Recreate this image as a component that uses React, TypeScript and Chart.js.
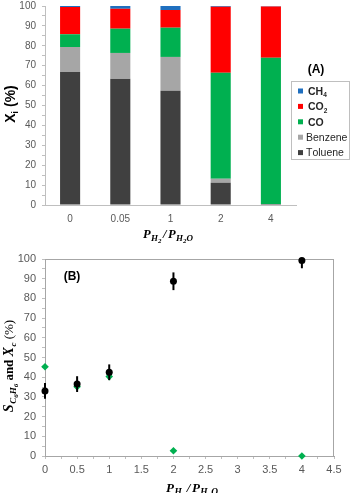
import React, { useEffect, useRef } from "react";
import { Chart, registerables } from "chart.js";

Chart.register(...registerables);

// Panel A: product distribution (stacked, %)
const ratioLabels = ["0", "0.05", "1", "2", "4"];
const toluene = [66.8, 63.5, 57.4, 11.2, 0.5];
const benzene = [12.6, 12.9, 17.0, 2.0, 0];
const co = [6.4, 12.2, 14.7, 53.3, 73.5];
const co2 = [13.7, 10.0, 8.9, 33.1, 25.8];
const ch4 = [0.5, 1.4, 2.0, 0.4, 0.2];

// Panel B: conversion with error bars and benzene selectivity
const ratioX = [0, 0.5, 1, 2, 4];
const conversion = [33, 36.5, 42.5, 88.7, 99.3];
const conversionErr = [4, 4, 4, 4.5, 4];
const selectivity = [45.3, 35.2, 40.3, 2.7, 0];

const SANS = "'Liberation Sans', Arial, sans-serif";
const SERIF = "'Liberation Serif', 'Times New Roman', serif";
const TICK_COLOR = "#595959";
const AXIS_COLOR = "#bfbfbf";

type Seg = { text: string; font: string; dy?: number; gap?: number };

function drawRich(
  ctx: CanvasRenderingContext2D,
  segs: Seg[],
  cx: number,
  cy: number,
  angle: number,
  color: string,
  align: "center" | "left" = "center"
) {
  ctx.save();
  ctx.translate(cx, cy);
  ctx.rotate(angle);
  ctx.fillStyle = color;
  ctx.textAlign = "left";
  ctx.textBaseline = "alphabetic";
  let total = 0;
  const widths = segs.map((s) => {
    ctx.font = s.font;
    const w = ctx.measureText(s.text).width + (s.gap ?? 0);
    total += w;
    return w;
  });
  let x = align === "center" ? -total / 2 : 0;
  segs.forEach((s, i) => {
    ctx.font = s.font;
    ctx.fillText(s.text, x, s.dy ?? 0);
    x += widths[i];
  });
  ctx.restore();
}

// split a label like "CO₂" into normal + subscript runs
function labelSegs(label: string, weight: string, size: number): Seg[] {
  const segs: Seg[] = [];
  for (const ch of label) {
    const code = ch.charCodeAt(0);
    if (code >= 0x2080 && code <= 0x2089) {
      segs.push({
        text: String(code - 0x2080),
        font: `${weight} ${size * 0.62}px ${SANS}`,
        dy: 2.5,
      });
    } else {
      segs.push({ text: ch, font: `${weight} ${size}px ${SANS}` });
    }
  }
  return segs;
}

function ratioTitle(size: number): Seg[] {
  const main = `italic bold ${size}px ${SERIF}`;
  const sub = `italic bold ${size * 0.72}px ${SERIF}`;
  const sub2 = `italic bold ${size * 0.55}px ${SERIF}`;
  return [
    { text: "P", font: main, gap: 0.5 },
    { text: "H", font: sub, dy: 3 },
    { text: "2", font: sub2, dy: 5, gap: 1.5 },
    { text: "/", font: main, gap: 1.5 },
    { text: "P", font: main, gap: 0.5 },
    { text: "H", font: sub, dy: 3 },
    { text: "2", font: sub2, dy: 5 },
    { text: "O", font: sub, dy: 3 },
  ];
}

const panelAPlugin = {
  id: "panelA",
  afterDraw(chart: any) {
    const ctx: CanvasRenderingContext2D = chart.ctx;
    // axis titles
    drawRich(
      ctx,
      [
        { text: "X", font: `bold 14px ${SANS}` },
        { text: "i", font: `bold 9px ${SANS}`, dy: 3 },
        { text: " (%)", font: `bold 14px ${SANS}` },
      ],
      15,
      104,
      -Math.PI / 2,
      "#000"
    );
    drawRich(ctx, ratioTitle(12.5), 168, 238, 0, "#000");

    // panel tag
    ctx.save();
    ctx.font = `bold 12px ${SANS}`;
    ctx.fillStyle = "#000";
    ctx.textAlign = "center";
    ctx.textBaseline = "middle";
    ctx.fillText("(A)", 316, 70);
    ctx.restore();

    // legend box
    ctx.save();
    ctx.fillStyle = "#fff";
    ctx.strokeStyle = AXIS_COLOR;
    ctx.lineWidth = 1;
    ctx.fillRect(291.5, 81.5, 58, 78);
    ctx.strokeRect(291.5, 81.5, 58, 78);
    ctx.restore();

    const ds = chart.data.datasets.slice().reverse();
    ds.forEach((d: any, i: number) => {
      const cy = 91 + i * 15.4;
      const bold = i < 3;
      ctx.save();
      ctx.fillStyle = d.backgroundColor;
      ctx.fillRect(298, cy - 2.5, 5, 5);
      ctx.restore();
      drawRich(
        ctx,
        labelSegs(d.label, bold ? "bold" : "normal", 10.5),
        bold ? 308 : 306,
        cy + 3.8,
        0,
        "#262626",
        "left"
      );
    });
  },
};

const panelBPlugin = {
  id: "panelB",
  beforeDatasetsDraw(chart: any) {
    const ctx: CanvasRenderingContext2D = chart.ctx;
    const a = chart.chartArea;
    ctx.save();
    ctx.strokeStyle = "#a6a6a6";
    ctx.lineWidth = 1;
    ctx.strokeRect(a.left + 0.5, a.top + 0.5, a.right - a.left - 1, a.bottom - a.top);
    ctx.restore();
  },
  afterDatasetsDraw(chart: any) {
    const ctx: CanvasRenderingContext2D = chart.ctx;
    const a = chart.chartArea;
    const xs = chart.scales.x;
    const ys = chart.scales.y;
    ctx.save();
    ctx.beginPath();
    ctx.rect(a.left - 5, a.top, a.right - a.left + 10, a.bottom - a.top);
    ctx.clip();
    ctx.strokeStyle = "#000";
    ctx.lineWidth = 2;
    ratioX.forEach((xv, i) => {
      const px = xs.getPixelForValue(xv);
      const y1 = ys.getPixelForValue(conversion[i] + conversionErr[i]);
      const y2 = ys.getPixelForValue(conversion[i] - conversionErr[i]);
      ctx.beginPath();
      ctx.moveTo(px, y1);
      ctx.lineTo(px, y2);
      ctx.stroke();
    });
    ctx.restore();
  },
  afterDraw(chart: any) {
    const ctx: CanvasRenderingContext2D = chart.ctx;
    drawRich(
      ctx,
      [
        { text: "S", font: `italic bold 14px ${SERIF}`, gap: 0.5 },
        { text: "C", font: `italic bold 9px ${SERIF}`, dy: 3 },
        { text: "6", font: `italic bold 7px ${SERIF}`, dy: 5 },
        { text: "H", font: `italic bold 9px ${SERIF}`, dy: 3 },
        { text: "6", font: `italic bold 7px ${SERIF}`, dy: 5 },
        { text: " and ", font: `bold 13px ${SERIF}` },
        { text: "X", font: `italic bold 14px ${SERIF}`, gap: 0.5 },
        { text: "c", font: `italic bold 9px ${SERIF}`, dy: 3 },
        { text: " (%)", font: `13px ${SERIF}` },
      ],
      13,
      121,
      -Math.PI / 2,
      "#000"
    );
    drawRich(ctx, ratioTitle(13), 192, 247, 0, "#000");

    ctx.save();
    ctx.font = `bold 12px ${SANS}`;
    ctx.fillStyle = "#000";
    ctx.textAlign = "center";
    ctx.textBaseline = "middle";
    ctx.fillText("(B)", 72, 32);
    ctx.restore();
  },
};

function minorTick(v: number, major: number) {
  return Math.abs(v / major - Math.round(v / major)) < 1e-6 ? String(v) : "";
}

export default function App() {
  const topRef = useRef<HTMLCanvasElement>(null);
  const botRef = useRef<HTMLCanvasElement>(null);

  useEffect(() => {
    const top = new Chart(topRef.current!, {
      type: "bar",
      data: {
        labels: ratioLabels,
        datasets: [
          { label: "Toluene", data: toluene, backgroundColor: "#404040" },
          { label: "Benzene", data: benzene, backgroundColor: "#a6a6a6" },
          { label: "CO", data: co, backgroundColor: "#00b050" },
          { label: "CO₂", data: co2, backgroundColor: "#ff0000" },
          { label: "CH₄", data: ch4, backgroundColor: "#1f6fbf" },
        ],
      },
      options: {
        responsive: false,
        animation: false,
        layout: { padding: { top: 6, right: 60, left: 0, bottom: 0 } },
        datasets: { bar: { barPercentage: 0.4, categoryPercentage: 1, borderWidth: 0 } },
        plugins: { legend: { display: false }, tooltip: { enabled: false } },
        scales: {
          x: {
            stacked: true,
            grid: { display: true, drawOnChartArea: false, drawTicks: false },
            border: { color: AXIS_COLOR },
            ticks: { font: { family: SANS, size: 10 }, color: TICK_COLOR, padding: 8 },
            afterFit: (s: any) => {
              s.height = 40;
            },
          },
          y: {
            stacked: true,
            min: 0,
            max: 100,
            grid: { drawOnChartArea: false, tickLength: 3, color: AXIS_COLOR },
            border: { color: AXIS_COLOR },
            ticks: {
              stepSize: 5,
              autoSkip: false,
              font: { family: SANS, size: 10 },
              color: TICK_COLOR,
              padding: 6,
              callback: (v: any) => minorTick(Number(v), 10),
            },
            afterFit: (s: any) => {
              s.width = 45;
              s.paddingTop = 0;
              s.paddingBottom = 0;
            },
          },
        },
      },
      plugins: [panelAPlugin],
    });

    const bottom = new Chart(botRef.current!, {
      type: "scatter",
      data: {
        datasets: [
          {
            label: "Xc",
            data: ratioX.map((x, i) => ({ x, y: conversion[i] })),
            pointStyle: "circle",
            pointRadius: 3.5,
            backgroundColor: "#000",
            borderColor: "#000",
            borderWidth: 0,
            clip: false,
          },
          {
            label: "S",
            data: ratioX.map((x, i) => ({ x, y: selectivity[i] })),
            pointStyle: "rectRot",
            pointRadius: 3.8,
            backgroundColor: "#00b050",
            borderColor: "#00b050",
            borderWidth: 0,
            clip: false,
          },
        ],
      },
      options: {
        responsive: false,
        animation: false,
        layout: { padding: { top: 14, right: 22, left: 0, bottom: 0 } },
        plugins: { legend: { display: false }, tooltip: { enabled: false } },
        scales: {
          x: {
            type: "linear",
            min: 0,
            max: 4.5,
            grid: { drawOnChartArea: false, tickLength: 3, color: AXIS_COLOR },
            border: { color: "#a6a6a6" },
            ticks: {
              stepSize: 0.25,
              autoSkip: false,
              maxRotation: 0,
              font: { family: SANS, size: 11 },
              color: TICK_COLOR,
              padding: 4,
              callback: (v: any) => minorTick(Number(v), 0.5),
            },
            afterFit: (s: any) => {
              s.height = 37;
            },
          },
          y: {
            min: 0,
            max: 100,
            grid: { drawOnChartArea: false, tickLength: 3, color: AXIS_COLOR },
            border: { color: "#a6a6a6" },
            ticks: {
              stepSize: 5,
              autoSkip: false,
              font: { family: SANS, size: 11 },
              color: TICK_COLOR,
              padding: 6,
              callback: (v: any) => minorTick(Number(v), 10),
            },
            afterFit: (s: any) => {
              s.width = 45;
            },
          },
        },
      },
      plugins: [panelBPlugin],
    });

    return () => {
      top.destroy();
      bottom.destroy();
    };
  }, []);

  return (
    <div
      style={{
        position: "absolute",
        left: 0,
        top: 0,
        width: 356,
        height: 493,
        background: "#fff",
      }}
    >
      <canvas
        ref={topRef}
        width={356}
        height={245}
        style={{ position: "absolute", left: 0, top: 0, width: 356, height: 245 }}
      />
      <canvas
        ref={botRef}
        width={356}
        height={248}
        style={{ position: "absolute", left: 0, top: 245, width: 356, height: 248 }}
      />
    </div>
  );
}
